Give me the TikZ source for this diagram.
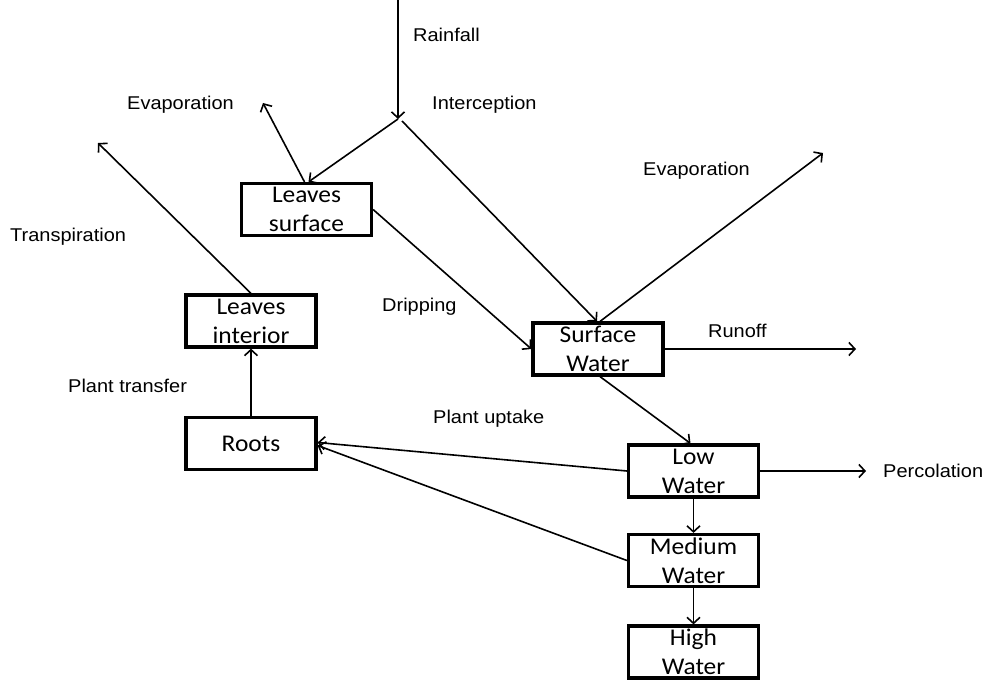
\documentclass[tikz,border=0pt]{standalone}
\usepackage{fontspec}
\usetikzlibrary{arrows.meta}
\newfontfamily\boxfont[FakeStretch=1.06]{Carlito}
\newfontfamily\labfont[FakeStretch=1.08]{Liberation Sans}
\begin{document}
\begin{tikzpicture}[x=1pt,y=-1pt,
  box/.style={draw, line width=3.2pt, minimum width=130pt, minimum height=52pt,
    inner sep=0pt, align=center, font=\boxfont\fontsize{24}{29}\selectfont},
  arr/.style={line width=1.6pt, -{Straight Barb[length=6pt,width=13pt,line width=1.6pt]}},
  lab/.style={anchor=base west, inner sep=0pt, font=\labfont\fontsize{18.5}{21}\selectfont}]
\useasboundingbox (0,0) rectangle (989,682);
% boxes
\node[box] (ls) at (306.5,209.5) {Leaves\\surface};
\node[box] (li) at (251,321) {Leaves\\interior};
\node[box] (roots) at (251,443.5) {Roots};
\node[box] (sw) at (598,349) {Surface\\Water};
\node[box] (lw) at (693.5,471) {Low\\Water};
\node[box] (mw) at (693.5,560.5) {Medium\\Water};
\node[box] (hw) at (693.5,652) {High\\Water};
% free ends
\coordinate (rtop) at (398,0);
\coordinate (junc) at (398,119);
\coordinate (juncr) at (402,121);
\coordinate (evl) at (263,103);
\coordinate (trp) at (98,143);
\coordinate (evr) at (823,153);
\coordinate (ro) at (856,349);
\coordinate (pc) at (866,471);
% connectors
\draw[arr] (rtop) -- (junc);
\draw[arr] (junc) -- ([xshift=2pt]ls.north);
\draw[arr] (juncr) -- ([xshift=-1pt]sw.north);
\draw[arr] ([xshift=-2pt]ls.north) -- (evl);
\draw[arr] (li.north) -- (trp);
\draw[arr] (ls.east) -- (sw.west);
\draw[arr] ([xshift=2pt]sw.north) -- (evr);
\draw[arr] (sw.east) -- (ro);
\draw[arr] ([xshift=2pt]sw.south) -- ([xshift=-3pt]lw.north);
\draw[arr] (lw.east) -- (pc);
\draw[arr] (lw.south) -- (mw.north);
\draw[arr] (mw.south) -- (hw.north);
\draw[arr] (lw.west) -- ([yshift=1pt]roots.east);
\draw[arr] (mw.west) -- ([yshift=-2pt]roots.east);
\draw[arr] (roots.north) -- (li.south);
% labels
\node[lab] (t1) at (413,42) {Rainfall};
\node[lab] (t2) at (127,110) {Evaporation};
\node[lab] (t3) at (432,110) {Interception};
\node[lab] (t4) at (10,242) {Transpiration};
\node[lab] (t5) at (643,176) {Evaporation};
\node[lab] (t6) at (382,311) {Dripping};
\node[lab] (t7) at (708,337) {Runoff};
\node[lab] (t8) at (68,392) {Plant transfer};
\node[lab] (t9) at (433,423) {Plant uptake};
\node[lab] (t10) at (883,477) {Percolation};
\end{tikzpicture}
\end{document}
